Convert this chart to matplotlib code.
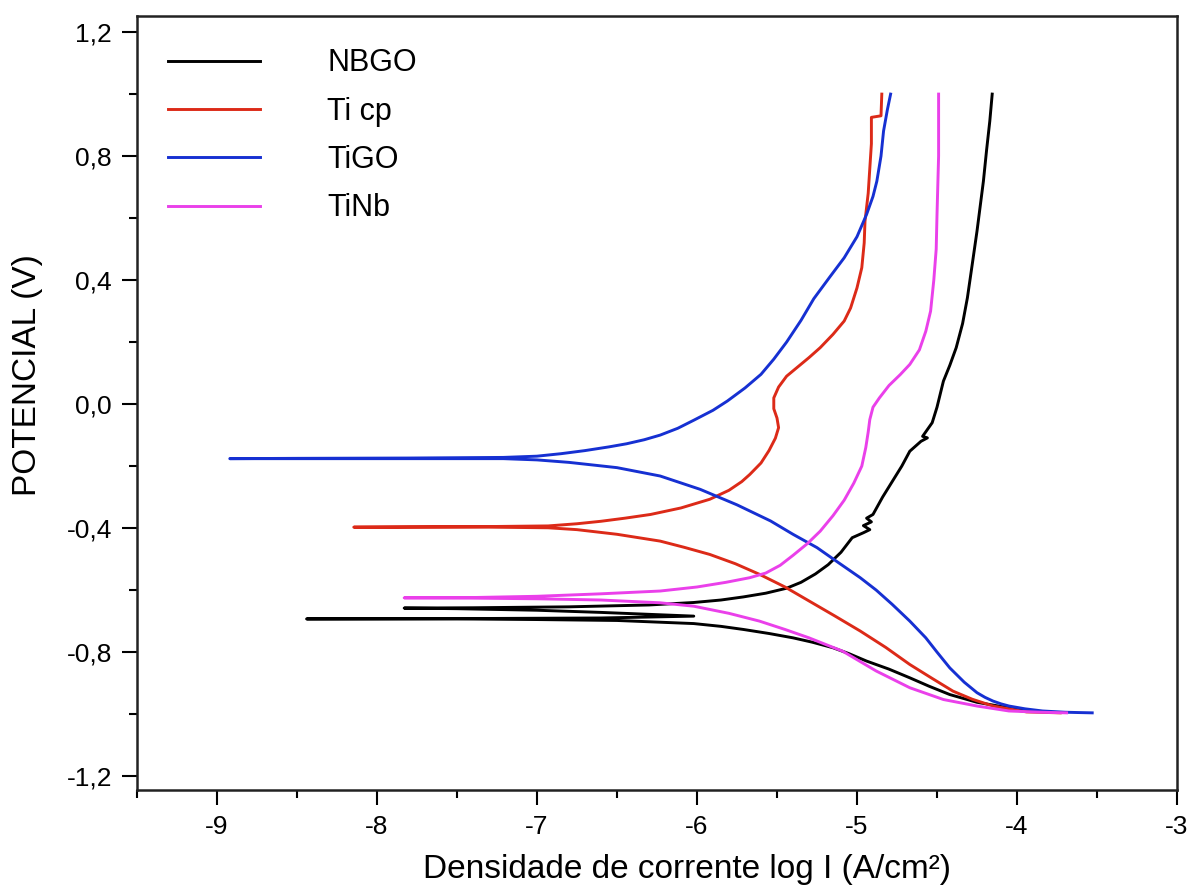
import numpy as np
import matplotlib
matplotlib.use("Agg")
import matplotlib.pyplot as plt
from matplotlib.ticker import MultipleLocator, FuncFormatter

# Curvas de polarizacao (log I x E), em ordem de varredura
# NBGO
nbgo_x = [-3.90, -4.05, -4.25, -4.42, -4.55, -4.67, -4.80, -4.94, -5.05, -5.15,
          -5.28, -5.40, -5.55, -5.71, -5.85, -6.02, -6.50, -7.00, -7.50, -8.00, -8.44,
          -7.50, -6.60, -6.02, -6.60, -7.00, -7.50, -7.83,
          -7.40, -6.80, -6.30, -6.02, -5.85, -5.71, -5.57, -5.44, -5.35, -5.26,
          -5.18, -5.10, -5.03,
          -4.96, -4.92, -4.96, -4.91, -4.94, -4.90, -4.84, -4.78, -4.72, -4.67, -4.60,
          -4.56, -4.59, -4.53, -4.50, -4.46, -4.42, -4.38, -4.34, -4.31, -4.28,
          -4.25, -4.21, -4.19, -4.17, -4.155]
nbgo_y = [-0.990, -0.980, -0.962, -0.937, -0.910, -0.883, -0.855, -0.829, -0.805, -0.786,
          -0.768, -0.754, -0.740, -0.727, -0.717, -0.708, -0.698, -0.695, -0.693, -0.693, -0.693,
          -0.692, -0.690, -0.684, -0.672, -0.665, -0.660, -0.658,
          -0.657, -0.654, -0.648, -0.640, -0.632, -0.622, -0.610, -0.594, -0.575, -0.548,
          -0.518, -0.478, -0.431,
          -0.415, -0.405, -0.392, -0.380, -0.368, -0.356, -0.300, -0.250, -0.200, -0.152, -0.120,
          -0.109, -0.104, -0.060, -0.010, 0.074, 0.125, 0.182, 0.260, 0.343, 0.450,
          0.558, 0.719, 0.820, 0.913, 1.000]

# Ti cp
ticp_x = [-3.73, -3.94, -4.15, -4.28, -4.40, -4.53, -4.67, -4.82, -4.98, -5.14,
          -5.30, -5.45, -5.61, -5.76, -5.92, -6.08, -6.23, -6.50, -6.75, -6.93, -7.30,
          -7.80, -8.145,
          -7.80, -7.30, -6.93, -6.75, -6.60, -6.45, -6.29, -6.10, -5.92, -5.80,
          -5.72, -5.67, -5.60, -5.55, -5.51, -5.49, -5.50, -5.52, -5.52, -5.49,
          -5.44, -5.37, -5.30, -5.23, -5.15, -5.08, -5.04, -5.00, -4.97, -4.955,
          -4.95, -4.93, -4.92, -4.91, -4.91, -4.85, -4.845]
ticp_y = [-0.996, -0.993, -0.974, -0.952, -0.926, -0.885, -0.840, -0.785, -0.732, -0.683,
          -0.635, -0.590, -0.549, -0.515, -0.485, -0.462, -0.442, -0.420, -0.405, -0.399, -0.397,
          -0.397, -0.397,
          -0.396, -0.395, -0.393, -0.386, -0.378, -0.368, -0.356, -0.335, -0.307, -0.278,
          -0.250, -0.227, -0.190, -0.150, -0.110, -0.076, -0.045, -0.015, 0.020, 0.055,
          0.090, 0.120, 0.150, 0.182, 0.225, 0.268, 0.310, 0.375, 0.440, 0.520,
          0.590, 0.680, 0.760, 0.840, 0.925, 0.930, 1.000]

# TiGO
tigo_x = [-3.53, -3.62, -3.70, -3.84, -3.95, -4.05, -4.10, -4.15, -4.20, -4.25, -4.33,
          -4.42, -4.50, -4.57, -4.67, -4.78, -4.88, -4.98, -5.12, -5.25, -5.40, -5.54,
          -5.75, -5.98, -6.23, -6.50, -6.80, -7.00, -7.21, -7.60, -8.00, -8.50, -8.92,
          -8.50, -7.80, -7.21, -7.00, -6.85, -6.70, -6.55, -6.44, -6.33, -6.23, -6.12,
          -6.02, -5.90, -5.81, -5.70, -5.60, -5.52, -5.44, -5.35, -5.27, -5.17, -5.08,
          -5.00, -4.94, -4.90, -4.876, -4.85, -4.834, -4.81, -4.79]
tigo_y = [-0.996, -0.995, -0.994, -0.990, -0.983, -0.974, -0.967, -0.958, -0.946, -0.931, -0.897,
          -0.851, -0.800, -0.754, -0.700, -0.646, -0.600, -0.560, -0.510, -0.463, -0.420, -0.377,
          -0.325, -0.275, -0.232, -0.205, -0.188, -0.180, -0.176, -0.176, -0.176, -0.176, -0.176,
          -0.175, -0.174, -0.172, -0.168, -0.160, -0.150, -0.138, -0.128, -0.115, -0.100, -0.078,
          -0.052, -0.020, 0.010, 0.052, 0.096, 0.145, 0.200, 0.270, 0.340, 0.410, 0.472,
          0.540, 0.612, 0.670, 0.719, 0.800, 0.881, 0.950, 1.000]

# TiNb
tinb_x = [-3.69, -3.85, -4.05, -4.25, -4.46, -4.67, -4.88, -5.09, -5.30, -5.45,
          -5.61, -5.80, -6.02, -6.23, -6.60, -7.00, -7.40, -7.83,
          -7.40, -7.00, -6.60, -6.23, -6.00, -5.82, -5.67, -5.57, -5.48, -5.40,
          -5.31, -5.23, -5.15, -5.08, -5.02, -4.97, -4.945, -4.93, -4.92, -4.90,
          -4.86, -4.80, -4.73, -4.67, -4.61, -4.57, -4.54, -4.52, -4.505, -4.50,
          -4.49, -4.49]
tinb_y = [-0.996, -0.994, -0.990, -0.974, -0.953, -0.915, -0.861, -0.797, -0.754, -0.727,
          -0.700, -0.675, -0.652, -0.641, -0.632, -0.628, -0.626, -0.625,
          -0.624, -0.620, -0.612, -0.603, -0.590, -0.575, -0.560, -0.545, -0.520, -0.488,
          -0.450, -0.410, -0.360, -0.310, -0.255, -0.200, -0.140, -0.090, -0.050, -0.010,
          0.020, 0.060, 0.095, 0.128, 0.175, 0.235, 0.300, 0.400, 0.500, 0.610,
          0.800, 1.000]

labels = ["NBGO", "Ti cp", "TiGO", "TiNb"]
colors = ["#000000", "#dc2a18", "#1630d2", "#ea40ea"]

plt.rcParams["font.family"] = ["Liberation Sans", "DejaVu Sans"]
plt.rcParams["axes.unicode_minus"] = False

fig = plt.figure(figsize=(11.93, 8.93), dpi=100)
ax = fig.add_axes([0.1148, 0.1153, 0.8718, 0.8668])

series = [(nbgo_x, nbgo_y), (ticp_x, ticp_y), (tigo_x, tigo_y), (tinb_x, tinb_y)]
for (xs, ys), lab, col in zip(series, labels, colors):
    ax.plot(xs, ys, color=col, lw=2.1, label=lab, solid_joinstyle="round")

ax.set_xlim(-9.5, -3)
ax.set_ylim(-1.245, 1.252)

ax.xaxis.set_major_locator(MultipleLocator(1))
ax.xaxis.set_minor_locator(MultipleLocator(0.5))
ax.yaxis.set_major_locator(MultipleLocator(0.4))
ax.yaxis.set_minor_locator(MultipleLocator(0.2))
ax.xaxis.set_major_formatter(FuncFormatter(lambda v, p: f"{v:.0f}"))
ax.yaxis.set_major_formatter(
    FuncFormatter(lambda v, p: f"{(0.0 if abs(v) < 1e-9 else v):.1f}".replace(".", ",")))

ax.tick_params(which="major", direction="out", length=11, width=1.5,
               labelsize=19, pad=7, top=False, right=False)
ax.tick_params(which="minor", direction="out", length=6, width=1.5,
               top=False, right=False)
for sp in ax.spines.values():
    sp.set_linewidth(1.8)
    sp.set_color("#222222")

ax.set_xlabel("Densidade de corrente log I (A/cm²)", fontsize=24)
ax.set_ylabel("POTENCIAL (V)", fontsize=24)
ax.xaxis.set_label_coords(0.529, -0.082)
ax.yaxis.set_label_coords(-0.090, 0.536)

ax.legend(loc="upper left", bbox_to_anchor=(0.03, 0.958), frameon=False,
          fontsize=22, handlelength=3.0, handletextpad=2.2, labelspacing=0.6,
          borderpad=0, borderaxespad=0)

fig.savefig("out.png", dpi=100)
